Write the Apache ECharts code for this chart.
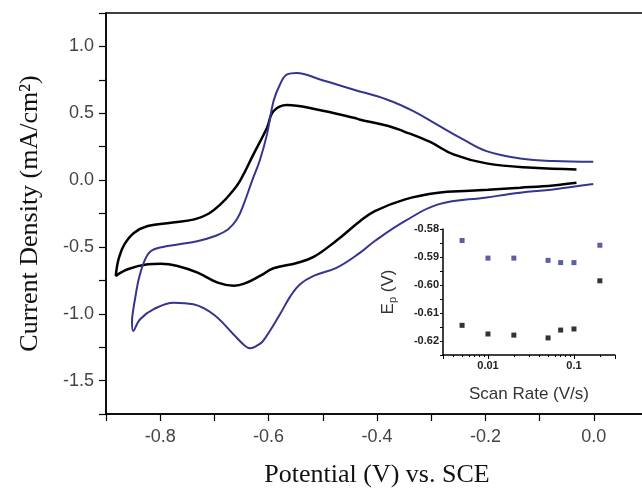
<!DOCTYPE html>
<html>
<head>
<meta charset="utf-8">
<script src="https://cdn.jsdelivr.net/npm/echarts@6/dist/echarts.min.js"></script>
<style>
  html, body { margin: 0; padding: 0; background: #fff; }
  #chart { width: 642px; height: 490px; }
</style>
</head>
<body>
<div id="chart"></div>
<script>
// CV loop, black film: upper branch right -> left, then lower branch left -> right
const blackPotential = [
  -0.032, -0.112, -0.198, -0.259, -0.302, -0.351, -0.379, -0.431, -0.441, -0.511, -0.566,
  -0.591, -0.603, -0.628, -0.653, -0.670, -0.689, -0.710, -0.737, -0.780, -0.823, -0.848,
  -0.866, -0.876, -0.880, -0.882,
  -0.860, -0.823, -0.799, -0.768, -0.731, -0.694, -0.664, -0.645, -0.615, -0.591, -0.548,
  -0.517, -0.474, -0.431, -0.404, -0.348, -0.287, -0.229, -0.195, -0.136, -0.075, -0.032
];
const blackCurrent = [
  0.080, 0.092, 0.125, 0.192, 0.285, 0.365, 0.405, 0.452, 0.464, 0.528, 0.562,
  0.516, 0.391, 0.192, -0.007, -0.100, -0.182, -0.250, -0.294, -0.319, -0.344, -0.394,
  -0.481, -0.580, -0.655, -0.717,
  -0.667, -0.630, -0.625, -0.643, -0.693, -0.767, -0.790, -0.775, -0.715, -0.660, -0.620,
  -0.575, -0.450, -0.306, -0.232, -0.144, -0.095, -0.080, -0.072, -0.057, -0.040, -0.020
];

// CV loop, blue film
const bluePotential = [
  -0.001, -0.075, -0.136, -0.198, -0.241, -0.290, -0.333, -0.382, -0.444, -0.505, -0.548,
  -0.566, -0.579, -0.591, -0.603, -0.616, -0.630, -0.645, -0.658, -0.675, -0.700, -0.730,
  -0.765, -0.795, -0.817, -0.829, -0.839, -0.845, -0.851, -0.852, -0.850,
  -0.837, -0.812, -0.775, -0.739, -0.702, -0.665, -0.645, -0.634, -0.620, -0.610, -0.579,
  -0.560, -0.542, -0.517, -0.474, -0.431, -0.404, -0.348, -0.287, -0.198, -0.136, -0.075, -0.001
];
const blueCurrent = [
  0.137, 0.142, 0.162, 0.217, 0.304, 0.416, 0.516, 0.603, 0.678, 0.753, 0.802,
  0.790, 0.715, 0.590, 0.342, 0.150, 0.000, -0.170, -0.290, -0.370, -0.420, -0.455,
  -0.480, -0.500, -0.531, -0.605, -0.730, -0.854, -1.004, -1.054, -1.129,
  -1.041, -0.966, -0.917, -0.929, -1.004, -1.153, -1.235, -1.258, -1.235, -1.203, -1.004,
  -0.870, -0.780, -0.717, -0.655, -0.543, -0.456, -0.306, -0.182, -0.130, -0.095, -0.070, -0.030
];

// inset: peak potential vs scan rate
const scanRates = [0.005, 0.01, 0.02, 0.05, 0.07, 0.1, 0.2];
const blueEp = [-0.5841, -0.5904, -0.5904, -0.5912, -0.5920, -0.5920, -0.5858];
const blackEp = [-0.6144, -0.6175, -0.6179, -0.6189, -0.6161, -0.6157, -0.5985];

const BLUE = '#35358f';
const pair = (xs, ys) => xs.map((x, i) => [x, ys[i]]);

const chart = echarts.init(document.getElementById('chart'));

const option = {
  animation: false,
  grid: [
    { left: 106, right: -6, top: 13, bottom: 76, show: true, borderColor: '#000', borderWidth: 1.5,
      backgroundColor: 'transparent', outerBoundsMode: 'none', containLabel: false },
    { left: 443, right: 27, top: 229, bottom: 135, outerBoundsMode: 'none', containLabel: false }
  ],
  xAxis: [
    {
      gridIndex: 0, type: 'value', min: -0.9, max: 0.1, interval: 0.1,
      name: 'Potential (V) vs. SCE', nameLocation: 'middle', nameGap: 48,
      nameTextStyle: { fontFamily: 'Liberation Serif', fontSize: 26, color: '#111' },
      axisLine: { onZero: false, lineStyle: { color: '#000', width: 1.5 } },
      axisTick: { length: 7, lineStyle: { color: '#000', width: 1.2 } },
      axisLabel: {
        fontFamily: 'Liberation Sans', fontSize: 18, color: '#444', margin: 14,
        formatter: v => Math.abs(Math.round(v * 10)) % 2 === 0 && v < 0.05 ? (Math.abs(v) < 1e-9 ? '0.0' : v.toFixed(1)) : ''
      },
      splitLine: { show: false }
    },
    {
      gridIndex: 1, type: 'log', min: 0.003, max: 0.3, logBase: 10,
      name: 'Scan Rate (V/s)', nameLocation: 'middle', nameGap: 31,
      nameTextStyle: { fontFamily: 'Liberation Sans', fontSize: 17, color: '#333' },
      axisLine: { onZero: false, lineStyle: { color: '#000', width: 1.5 } },
      axisTick: { length: 4, lineStyle: { color: '#000' } },
      minorTick: { show: true, splitNumber: 9, length: 2, lineStyle: { color: '#000' } },
      axisLabel: {
        fontFamily: 'Liberation Sans Narrow, Liberation Sans', fontSize: 11, fontWeight: 'bold', color: '#222', margin: 5,
        showMinLabel: false, showMaxLabel: false,
        formatter: v => (Math.abs(v - 0.01) < 1e-6 || Math.abs(v - 0.1) < 1e-6) ? String(+v.toPrecision(3)) : ''
      },
      splitLine: { show: false }
    }
  ],
  yAxis: [
    {
      gridIndex: 0, type: 'value', min: -1.75, max: 1.25, interval: 0.25,
      name: 'Current Density (mA/cm²)', nameLocation: 'middle', nameGap: 63, nameRotate: 90,
      nameTextStyle: { fontFamily: 'Liberation Serif', fontSize: 26, color: '#111' },
      axisLine: { show: true, onZero: false, lineStyle: { color: '#000', width: 1.5 } },
      axisTick: { show: true, length: 7, lineStyle: { color: '#000', width: 1.2 } },
      axisLabel: {
        fontFamily: 'Liberation Sans', fontSize: 18, color: '#444', margin: 12,
        formatter: v => Math.abs(Math.round(v * 4)) % 2 === 0 && v < 1.2 ? (Math.abs(v) < 1e-9 ? '0.0' : v.toFixed(1)) : ''
      },
      splitLine: { show: false }
    },
    {
      gridIndex: 1, type: 'value', min: -0.625, max: -0.58, interval: 0.005,
      name: '{e|E}{p|p}{e| (V)}', nameLocation: 'middle', nameGap: 45, nameRotate: 90,
      nameTextStyle: {
        rich: {
          e: { fontFamily: 'Liberation Sans', fontSize: 17, color: '#333' },
          p: { fontFamily: 'Liberation Sans', fontSize: 11, color: '#333', verticalAlign: 'bottom', padding: [8, 0, 0, 0] }
        }
      },
      axisLine: { show: true, onZero: false, lineStyle: { color: '#000', width: 1.5 } },
      axisTick: { show: true, length: 3, lineStyle: { color: '#000' } },
      axisLabel: {
        fontFamily: 'Liberation Sans Narrow, Liberation Sans', fontSize: 11, fontWeight: 'bold', color: '#222', margin: 4,
        formatter: v => Math.abs(Math.round(v * 200)) % 2 === 0 ? v.toFixed(2) : ''
      },
      splitLine: { show: false }
    }
  ],
  series: [
    {
      type: 'line', xAxisIndex: 0, yAxisIndex: 0, data: pair(blackPotential, blackCurrent),
      smooth: 0.4, showSymbol: false, lineStyle: { color: '#000', width: 2.5 }
    },
    {
      type: 'line', xAxisIndex: 0, yAxisIndex: 0, data: pair(bluePotential, blueCurrent),
      smooth: 0.4, showSymbol: false, lineStyle: { color: BLUE, width: 2 }
    },
    {
      type: 'scatter', xAxisIndex: 1, yAxisIndex: 1, data: pair(scanRates, blueEp),
      symbol: 'rect', symbolSize: 5, itemStyle: { color: BLUE }
    },
    {
      type: 'scatter', xAxisIndex: 1, yAxisIndex: 1, data: pair(scanRates, blackEp),
      symbol: 'rect', symbolSize: 5, itemStyle: { color: '#000' }
    }
  ]
};

chart.setOption(option);
</script>
</body>
</html>
